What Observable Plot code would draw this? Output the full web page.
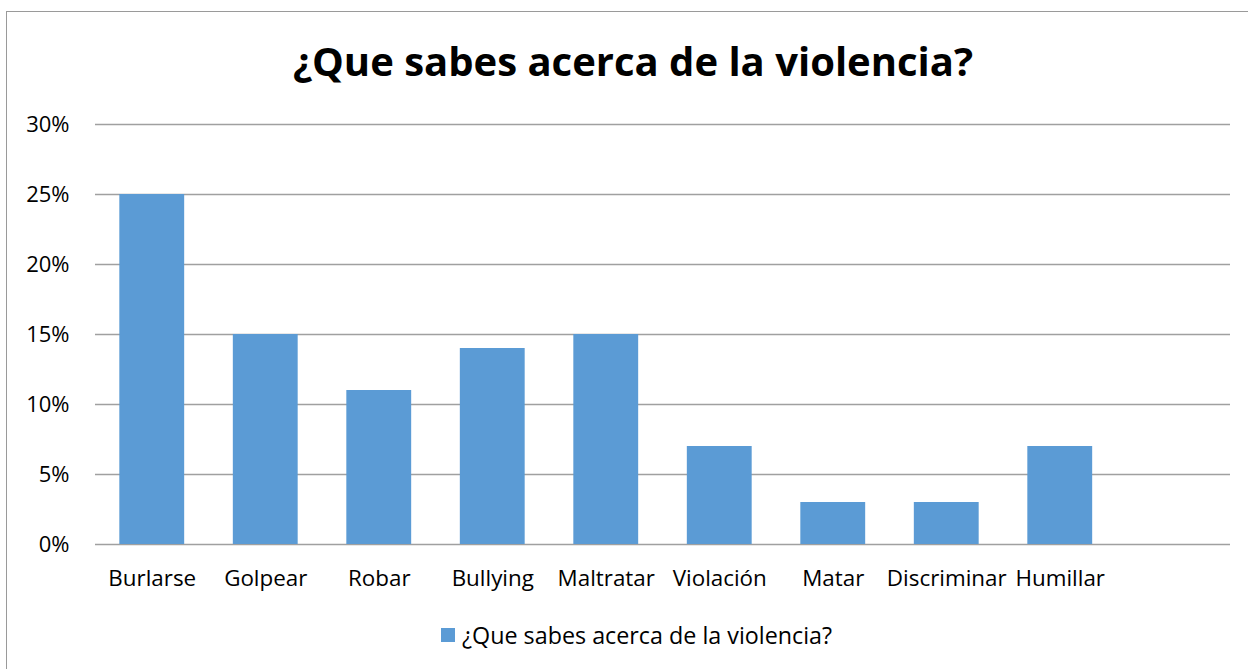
<!DOCTYPE html>
<html>
<head>
<meta charset="utf-8">
<script src="https://cdn.jsdelivr.net/npm/d3@7"></script>
<script src="https://cdn.jsdelivr.net/npm/@observablehq/plot@0.6"></script>
<style>
  html, body { margin: 0; padding: 0; background: #fff; }
  #wrap { position: relative; width: 1248px; height: 669px; overflow: hidden; font-family: "Open Sans", sans-serif; }
  #frame { position: absolute; left: 6px; top: 11px; width: 1300px; height: 700px; border: 1.5px solid #9a9a9a; box-sizing: border-box; }
  #title { position: absolute; left: 6px; width: 1254px; top: 33px; text-align: center; font-weight: bold; font-size: 40px; line-height: 56px; color: #000; }
  #chart { position: absolute; left: 0; top: 0; }
  #legend { position: absolute; left: 441px; top: 618px; height: 34px; display: flex; align-items: center; font-size: 23.3px; color: #000; }
  #legend .sw { width: 14px; height: 14px; background: #5b9bd5; margin-right: 7px; }
</style>
</head>
<body>
<div id="wrap">
  <div id="frame"></div>
  <div id="chart"></div>
  <div id="title"></div>
  <div id="legend"><span class="sw"></span><span id="legtext"></span></div>
</div>
<script>
const title = "¿Que sabes acerca de la violencia?";
const seriesName = "¿Que sabes acerca de la violencia?";
const categories = ["Burlarse", "Golpear", "Robar", "Bullying", "Maltratar", "Violación", "Matar", "Discriminar", "Humillar"];
const values = [0.25, 0.15, 0.11, 0.14, 0.15, 0.07, 0.03, 0.03, 0.07];
const xSlots = [...categories, " "];
const yTicks = [0, 0.05, 0.10, 0.15, 0.20, 0.25, 0.30];

const data = categories.map((c, i) => ({category: c, value: values[i]}));

document.getElementById("title").textContent = title;
document.getElementById("legtext").textContent = seriesName;

const chart = Plot.plot({
  width: 1248,
  height: 669,
  marginLeft: 95,
  marginRight: 18,
  marginTop: 124,
  marginBottom: 125,
  style: {background: "transparent", fontFamily: "Open Sans, sans-serif", fontSize: "22px", color: "#000"},
  x: {type: "band", domain: xSlots, paddingInner: 0.4286, paddingOuter: 0.2143, round: false, label: null},
  y: {domain: [0, 0.30], label: null},
  marks: [
    Plot.ruleY(yTicks, {stroke: "#a0a0a0", strokeWidth: 1.3}),
    Plot.barY(data, {x: "category", y: "value", fill: "#5b9bd5"}),
    Plot.axisY({ticks: yTicks, tickFormat: d => Math.round(d * 100) + "%", tickSize: 0, tickPadding: 26, label: null, fontSize: 22}),
    Plot.axisX({tickSize: 0, tickPadding: 26, label: null, fontSize: 22.4})
  ]
});
document.getElementById("chart").appendChild(chart);
</script>
</body>
</html>
